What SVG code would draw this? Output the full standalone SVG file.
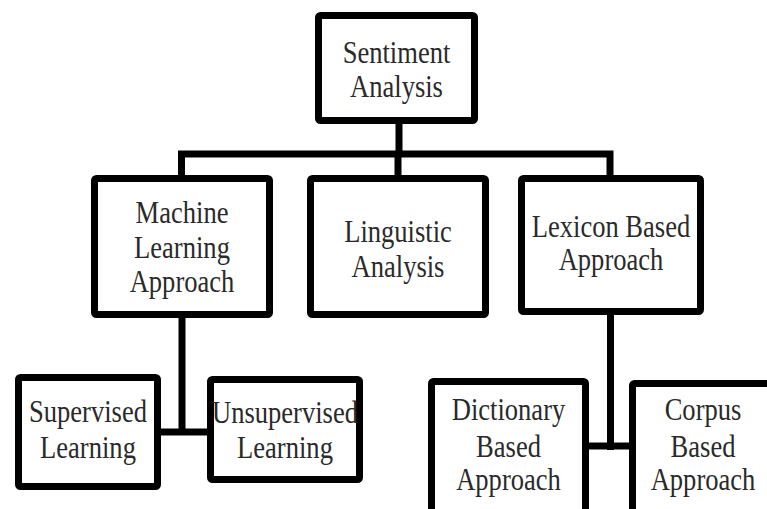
<svg xmlns="http://www.w3.org/2000/svg" width="767" height="509" viewBox="0 0 767 509">
<style>
.box{fill:#fff;stroke:#000;stroke-width:7;stroke-linejoin:round}
.lbl{font-family:"Liberation Serif","Times New Roman",serif;font-size:32px;fill:#2a2a2a;text-anchor:middle}
.con{fill:none;stroke:#000;stroke-width:7;stroke-linejoin:miter}
</style>
<rect width="767" height="509" fill="#fff"/>
<g id="connectors">
<path class="con" d="M399,124 V154"/>
<path class="con" d="M181.5,175 V154 H610 V175"/>
<path class="con" d="M398,154 V175"/>
<path class="con" d="M182,318 V435"/>
<path class="con" d="M161,432 H207"/>
<path class="con" d="M610.5,315 V450"/>
<path class="con" d="M589,446 H629"/>
</g>
<g id="sentiment">
<rect class="box" x="318.5" y="15.5" width="156" height="105" rx="2"/>
<text class="lbl" transform="translate(396.5 0) scale(0.83 1)"><tspan x="0" y="63">Sentiment</tspan><tspan x="0" y="97">Analysis</tspan></text>
</g>
<g id="ml">
<rect class="box" x="94.5" y="178.5" width="175" height="136" rx="2"/>
<text class="lbl" transform="translate(182 0) scale(0.83 1)"><tspan x="0" y="223">Machine</tspan><tspan x="0" y="258">Learning</tspan><tspan x="0" y="292">Approach</tspan></text>
</g>
<g id="linguistic">
<rect class="box" x="310.5" y="178.5" width="175" height="136" rx="2"/>
<text class="lbl" transform="translate(398 0) scale(0.83 1)"><tspan x="0" y="242">Linguistic</tspan><tspan x="0" y="277">Analysis</tspan></text>
</g>
<g id="lexicon">
<rect class="box" x="521.5" y="178.5" width="179" height="133" rx="2"/>
<text class="lbl" transform="translate(611 0) scale(0.83 1)"><tspan x="0" y="237">Lexicon Based</tspan><tspan x="0" y="270">Approach</tspan></text>
</g>
<g id="supervised">
<rect class="box" x="18.5" y="377.5" width="139" height="109" rx="2"/>
<text class="lbl" transform="translate(88 0) scale(0.83 1)"><tspan x="0" y="422">Supervised</tspan><tspan x="0" y="458">Learning</tspan></text>
</g>
<g id="unsupervised">
<rect class="box" x="210.5" y="379.5" width="149" height="100" rx="2"/>
<text class="lbl" transform="translate(285 0) scale(0.83 1)"><tspan x="0" y="423">Unsupervised</tspan><tspan x="0" y="458">Learning</tspan></text>
</g>
<g id="dictionary">
<rect class="box" x="431.5" y="381.5" width="154" height="140" rx="2"/>
<text class="lbl" transform="translate(508.5 0) scale(0.83 1)"><tspan x="0" y="420">Dictionary</tspan><tspan x="0" y="457">Based</tspan><tspan x="0" y="490">Approach</tspan></text>
</g>
<g id="corpus">
<rect class="box" x="632.5" y="383.5" width="150" height="140" rx="2"/>
<text class="lbl" transform="translate(703 0) scale(0.83 1)"><tspan x="0" y="420">Corpus</tspan><tspan x="0" y="457">Based</tspan><tspan x="0" y="490">Approach</tspan></text>
</g>
</svg>
